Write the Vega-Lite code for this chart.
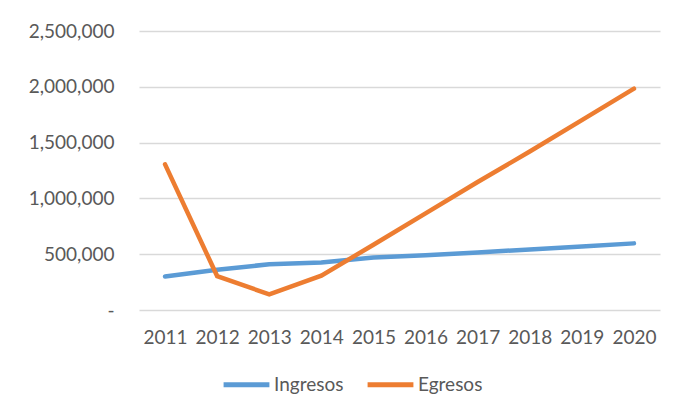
{
  "$schema": "https://vega.github.io/schema/vega-lite/v6.json",
  "width": 521,
  "height": 279,
  "autosize": {"type": "none"},
  "padding": {"left": 139, "top": 31, "right": 15, "bottom": 104},
  "background": "white",
  "data": {
    "values": [
      {"year": "2011", "serie": "Ingresos", "valor": 300000},
      {"year": "2012", "serie": "Ingresos", "valor": 360000},
      {"year": "2013", "serie": "Ingresos", "valor": 410000},
      {"year": "2014", "serie": "Ingresos", "valor": 425000},
      {"year": "2015", "serie": "Ingresos", "valor": 470000},
      {"year": "2016", "serie": "Ingresos", "valor": 490000},
      {"year": "2017", "serie": "Ingresos", "valor": 516000},
      {"year": "2018", "serie": "Ingresos", "valor": 543000},
      {"year": "2019", "serie": "Ingresos", "valor": 570000},
      {"year": "2020", "serie": "Ingresos", "valor": 597000},
      {"year": "2011", "serie": "Egresos", "valor": 1305000},
      {"year": "2012", "serie": "Egresos", "valor": 304000},
      {"year": "2013", "serie": "Egresos", "valor": 140000},
      {"year": "2014", "serie": "Egresos", "valor": 307000},
      {"year": "2015", "serie": "Egresos", "valor": 585000},
      {"year": "2016", "serie": "Egresos", "valor": 866000},
      {"year": "2017", "serie": "Egresos", "valor": 1147000},
      {"year": "2018", "serie": "Egresos", "valor": 1420000},
      {"year": "2019", "serie": "Egresos", "valor": 1702000},
      {"year": "2020", "serie": "Egresos", "valor": 1983000}
    ]
  },
  "mark": {"type": "line", "strokeWidth": 4.5, "strokeCap": "round"},
  "encoding": {
    "x": {
      "field": "year",
      "type": "ordinal",
      "scale": {"type": "point", "padding": 0.5},
      "axis": {
        "title": null,
        "labelAngle": 0,
        "domain": false,
        "ticks": false,
        "grid": false,
        "labelPadding": 18,
        "labelFont": "Lato",
        "labelFontSize": 19,
        "labelColor": "#595959"
      }
    },
    "y": {
      "field": "valor",
      "type": "quantitative",
      "scale": {"domain": [0, 2500000]},
      "axis": {
        "title": null,
        "values": [0, 500000, 1000000, 1500000, 2000000, 2500000],
        "labelExpr": "datum.value == 0 ? '-\u00a0\u00a0\u00a0' : format(datum.value, ',')",
        "domain": false,
        "ticks": false,
        "grid": true,
        "gridColor": "#D9D9D9",
        "gridWidth": 1.5,
        "labelPadding": 25,
        "labelFont": "Lato",
        "labelFontSize": 19,
        "labelColor": "#595959"
      }
    },
    "color": {
      "field": "serie",
      "type": "nominal",
      "scale": {"domain": ["Ingresos", "Egresos"], "range": ["#5B9BD5", "#ED7D31"]},
      "legend": {
        "title": null,
        "orient": "none",
        "direction": "horizontal",
        "legendX": 82,
        "legendY": 328,
        "symbolType": "stroke",
        "symbolSize": 2100,
        "symbolStrokeWidth": 5,
        "labelOffset": 2,
        "columnPadding": 13,
        "labelFont": "Lato",
        "labelFontSize": 19,
        "labelColor": "#595959"
      }
    }
  },
  "config": {"view": {"stroke": null}}
}
